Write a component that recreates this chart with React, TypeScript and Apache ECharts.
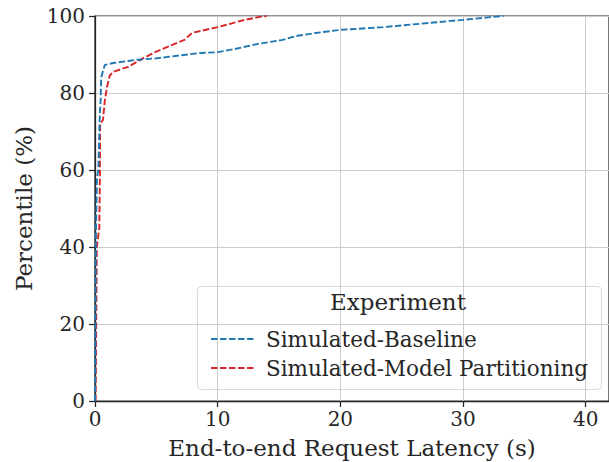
import React, { useEffect, useRef } from "react";
import * as echarts from "echarts";

// Latency (s) and cumulative percentile (%) for each experiment
const baselineLatency = [0.0, 0.08, 0.16, 0.27, 0.4, 0.46, 0.5, 0.8, 1.5, 3.3, 5.0, 7.0, 8.6, 10.0, 11.5, 13.2, 15.3, 16.4, 18.0, 20.0, 23.5, 26.2, 30.0, 32.2, 33.3];
const baselinePct = [0, 44, 58, 60, 75, 78, 84, 87.3, 87.8, 88.6, 89.0, 89.8, 90.4, 90.6, 91.5, 92.7, 93.8, 94.8, 95.6, 96.4, 97.1, 97.9, 99.0, 99.7, 100];

const partitionLatency = [0.05, 0.15, 0.35, 0.4, 0.42, 0.65, 0.8, 0.98, 1.2, 1.47, 2.7, 3.9, 4.9, 6.3, 7.3, 7.9, 10.0, 12.2, 13.3, 14.0];
const partitionPct = [0, 40, 45, 58, 72, 73, 78, 81.6, 84.5, 85.5, 86.8, 89.0, 90.6, 92.5, 93.8, 95.6, 97.1, 99.0, 99.7, 100];

const seriesNames = ["Simulated-Baseline", "Simulated-Model Partitioning"];
const seriesColors = ["#1f77b4", "#d62728"];
const xTicks = [0, 10, 20, 30, 40];

const FONT = "DejaVu Serif";
const TEXT = "#262626";

export default function App() {
  const ref = useRef<HTMLDivElement>(null);

  useEffect(() => {
    if (!ref.current) return;
    const chart = echarts.init(ref.current, undefined, { renderer: "svg" });
    const pair = (xs: number[], ys: number[]) => xs.map((x, i) => [x, ys[i]]);
    const dash = { type: [6.5, 2.5] as number[], width: 1.9 };

    chart.setOption({
      animation: false,
      backgroundColor: "#ffffff",
      grid: {
        left: 95,
        right: 0,
        top: 16,
        bottom: 61,
        containLabel: false,
        outerBoundsMode: "none",
        show: true,
        borderColor: TEXT,
        borderWidth: 1.25,
      },
      xAxis: {
        type: "value",
        min: 0,
        max: 41.9,
        interval: 10,
        name: "End-to-end Request Latency (s)",
        nameLocation: "middle",
        nameGap: 35,
        nameTextStyle: { fontFamily: FONT, fontSize: 23, color: TEXT },
        axisLine: { show: true, lineStyle: { color: TEXT, width: 1.25 } },
        axisTick: { show: true, length: 6, lineStyle: { color: TEXT, width: 1.25 } },
        axisLabel: {
          fontFamily: FONT,
          fontSize: 20,
          color: TEXT,
          margin: 8,
          showMaxLabel: false,
          formatter: (v: number) => (xTicks.includes(v) ? String(v) : ""),
        },
        splitLine: { show: true, lineStyle: { color: "#cccccc", width: 1 } },
      },
      yAxis: {
        type: "value",
        min: 0,
        max: 100,
        interval: 20,
        name: "Percentile (%)",
        nameLocation: "middle",
        nameGap: 60,
        nameTextStyle: { fontFamily: FONT, fontSize: 23, color: TEXT },
        axisLine: { show: true, lineStyle: { color: TEXT, width: 1.25 } },
        axisTick: { show: true, length: 6, lineStyle: { color: TEXT, width: 1.25 } },
        axisLabel: { fontFamily: FONT, fontSize: 20, color: TEXT, margin: 10 },
        splitLine: { show: true, lineStyle: { color: "#cccccc", width: 1 } },
      },
      legend: {
        orient: "vertical",
        left: 205,
        top: 323,
        itemWidth: 45,
        itemHeight: 14,
        itemGap: 7,
        data: seriesNames,
        itemStyle: { opacity: 0, borderWidth: 0 },
        textStyle: {
          fontFamily: FONT,
          fontSize: 21.5,
          color: TEXT,
          padding: [0, 0, 0, 5],
        },
      },
      graphic: [
        {
          type: "rect",
          left: 197,
          top: 286,
          shape: { width: 404, height: 103, r: 4 },
          style: { fill: "rgba(255,255,255,0.8)", stroke: "#d9d9d9", lineWidth: 1 },
          z: 0,
        },
        {
          type: "text",
          left: 330,
          top: 290,
          style: { text: "Experiment", fontFamily: FONT, fontSize: 23, fill: TEXT },
          z: 1,
        },
      ],
      series: [
        {
          name: seriesNames[0],
          type: "line",
          data: pair(baselineLatency, baselinePct),
          showSymbol: false,
          symbol: "none",
          color: seriesColors[0],
          lineStyle: { ...dash, color: seriesColors[0] },
          z: 3,
        },
        {
          name: seriesNames[1],
          type: "line",
          data: pair(partitionLatency, partitionPct),
          showSymbol: false,
          symbol: "none",
          color: seriesColors[1],
          lineStyle: { ...dash, color: seriesColors[1] },
          z: 2,
        },
      ],
    });
    return () => chart.dispose();
  }, []);

  return (
    <div
      ref={ref}
      style={{ position: "fixed", left: 0, top: 0, width: 609, height: 462 }}
    />
  );
}
